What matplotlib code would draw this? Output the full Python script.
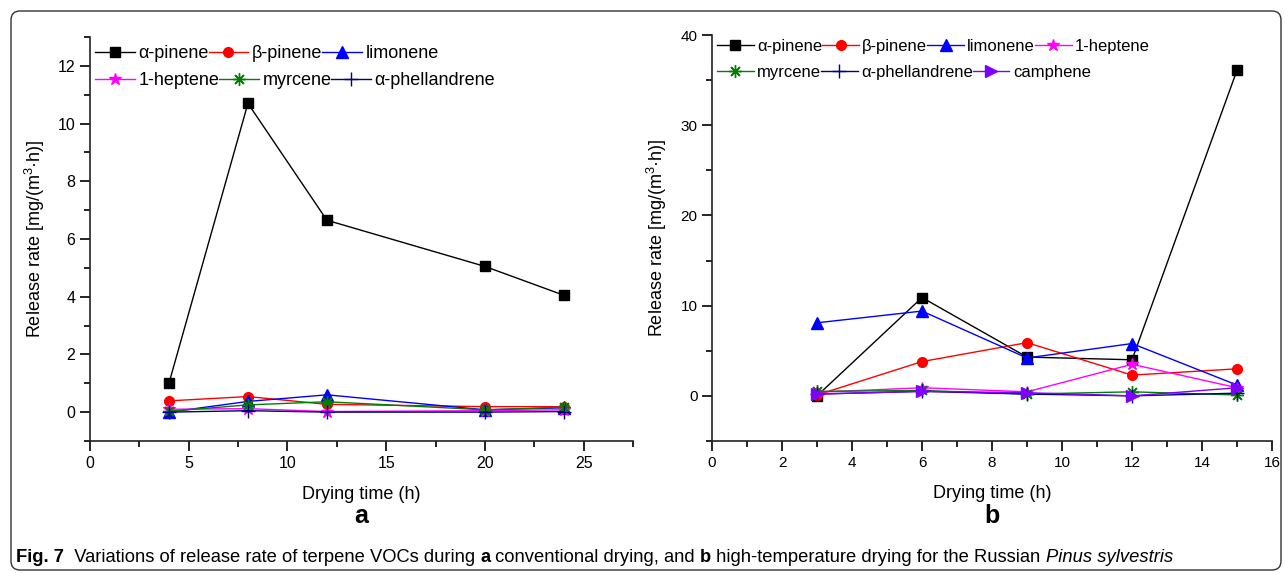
import numpy as np
import matplotlib
matplotlib.use("Agg")
import matplotlib.pyplot as plt
from matplotlib import font_manager
from matplotlib.legend import Legend
from matplotlib.patches import FancyBboxPatch
from matplotlib.ticker import MultipleLocator

# data
time_a = [4, 8, 12, 20, 24]
a_pinene_a = [1.0, 10.7, 6.65, 5.05, 4.05]
b_pinene_a = [0.39, 0.54, 0.27, 0.19, 0.19]
limonene_a = [0.0, 0.37, 0.6, 0.08, 0.15]
heptene_a = [0.1, 0.12, 0.02, 0.05, 0.08]
myrcene_a = [0.03, 0.25, 0.36, 0.08, 0.17]
phell_a = [0.0, 0.05, 0.0, 0.0, 0.02]

time_b = [3, 6, 9, 12, 15]
a_pinene_b = [0.0, 10.9, 4.3, 4.0, 36.1]
b_pinene_b = [0.1, 3.8, 5.9, 2.3, 3.0]
limonene_b = [8.1, 9.4, 4.2, 5.8, 1.2]
heptene_b = [0.4, 0.9, 0.45, 3.5, 0.9]
myrcene_b = [0.5, 0.6, 0.2, 0.45, 0.1]
phell_b = [0.2, 0.5, 0.2, 0.0, 0.3]
camphene_b = [0.2, 0.5, 0.35, 0.0, 0.9]

names = ["\u03b1-pinene", "\u03b2-pinene", "limonene", "1-heptene",
         "myrcene", "\u03b1-phellandrene", "camphene"]

styles = {
    "\u03b1-pinene": dict(color="black", marker="s", ms=7),
    "\u03b2-pinene": dict(color="red", marker="o", ms=7),
    "limonene": dict(color="blue", marker="^", ms=8),
    "1-heptene": dict(color="magenta", marker="*", ms=9),
    "myrcene": dict(color="green", marker=(8, 2, 0), ms=9, mew=1),
    "\u03b1-phellandrene": dict(color="#000080", marker="+", ms=10, mew=1),
    "camphene": dict(color="#8000FF", marker=">", ms=8),
}

avail = {f.name for f in font_manager.fontManager.ttflist}
main_font = "Liberation Sans" if "Liberation Sans" in avail else "DejaVu Sans"
cap_font = "Liberation Sans Narrow" if "Liberation Sans Narrow" in avail else main_font

plt.rcParams["font.family"] = [main_font, "DejaVu Sans"]
plt.rcParams["mathtext.fontset"] = "custom"
plt.rcParams["mathtext.rm"] = main_font
plt.rcParams["mathtext.it"] = main_font + ":italic"

fig = plt.figure(figsize=(12.85, 5.73), dpi=100)

ax_a = fig.add_axes([0.0700, 0.2304, 0.4226, 0.7050])
ax_b = fig.add_axes([0.5541, 0.2304, 0.4358, 0.7085])


def style_axes(ax, tick_fs, label_fs):
    for s in ["top", "right"]:
        ax.spines[s].set_visible(False)
    for s in ["left", "bottom"]:
        ax.spines[s].set_linewidth(1.2)
        ax.spines[s].set_color("#222222")
    ax.tick_params(which="major", direction="out", length=7, width=1.2, labelsize=tick_fs)
    ax.tick_params(which="minor", direction="out", length=4, width=1.2)
    ax.set_xlabel("Drying time (h)", fontsize=label_fs, labelpad=11)
    ax.set_ylabel("Release rate [mg/(m$^3$\u00b7h)]", fontsize=label_fs, labelpad=8)


def draw(ax, t, series_names, series_vals):
    lines = {}
    for n, v in zip(series_names, series_vals):
        st = styles[n]
        ln, = ax.plot(t, v, lw=1, label=n, **st)
        lines[n] = ln
    return lines


def row_legends(ax, lines, rows, x0, tops, fs):
    # one legend per row so the entries flow like the original
    for row, top in zip(rows, tops):
        leg = Legend(ax, [lines[n] for n in row], row, ncol=len(row),
                     loc="upper left", bbox_to_anchor=(x0, top), frameon=False,
                     fontsize=fs, handlelength=2.2, handletextpad=0.2,
                     columnspacing=0.0, borderpad=0.0, borderaxespad=0.0)
        ax.add_artist(leg)


names_a = names[:6]
lines_a = draw(ax_a, time_a, names_a,
               [a_pinene_a, b_pinene_a, limonene_a, heptene_a, myrcene_a, phell_a])
ax_a.set_xlim(0, 27.5)
ax_a.set_ylim(-1, 13)
ax_a.xaxis.set_major_locator(MultipleLocator(5))
ax_a.xaxis.set_minor_locator(MultipleLocator(2.5))
ax_a.yaxis.set_major_locator(MultipleLocator(2))
ax_a.yaxis.set_minor_locator(MultipleLocator(1))
style_axes(ax_a, 11.5, 13)
row_legends(ax_a, lines_a, [names_a[:3], names_a[3:]], 0.009, [0.98, 0.913], 13)

lines_b = draw(ax_b, time_b, names,
               [a_pinene_b, b_pinene_b, limonene_b, heptene_b, myrcene_b, phell_b, camphene_b])
ax_b.set_xlim(0, 16)
ax_b.set_ylim(-5, 40)
ax_b.xaxis.set_major_locator(MultipleLocator(2))
ax_b.xaxis.set_minor_locator(MultipleLocator(1))
ax_b.yaxis.set_major_locator(MultipleLocator(10))
ax_b.yaxis.set_minor_locator(MultipleLocator(5))
style_axes(ax_b, 11, 13)
row_legends(ax_b, lines_b, [names[:4], names[4:]], 0.009, [0.99, 0.926], 12)

# panel letters
fig.text(0.0700 + 0.4226 / 2, 1 - 516 / 573, "a", ha="center", va="center",
         fontsize=18, fontweight="bold")
fig.text(0.5541 + 0.4358 / 2, 1 - 516 / 573, "b", ha="center", va="center",
         fontsize=18, fontweight="bold")

# frame round the figure
frame = FancyBboxPatch((11, 3), 1270, 559, boxstyle="round,pad=0,rounding_size=9",
                       transform=None, fill=False, ec="#333333", lw=1.0)
fig.patches.append(frame)

# caption with mixed styles
pieces = [("Fig. 7", "bold", "normal"),
          ("  Variations of release rate of terpene VOCs during ", "normal", "normal"),
          ("a", "bold", "normal"),
          (" conventional drying, and ", "normal", "normal"),
          ("b", "bold", "normal"),
          (" high-temperature drying for the Russian ", "normal", "normal"),
          ("Pinus sylvestris", "normal", "italic")]
renderer = fig.canvas.get_renderer()
x = 16
y = 573 - 558
for txt, w, sty in pieces:
    t = fig.text(x / 1285, y / 573, txt, fontsize=13.2, fontweight=w, fontstyle=sty,
                 family=[cap_font, "DejaVu Sans"], va="center", ha="left")
    bb = t.get_window_extent(renderer)
    x = bb.x1

fig.savefig("out.png", dpi=100)
